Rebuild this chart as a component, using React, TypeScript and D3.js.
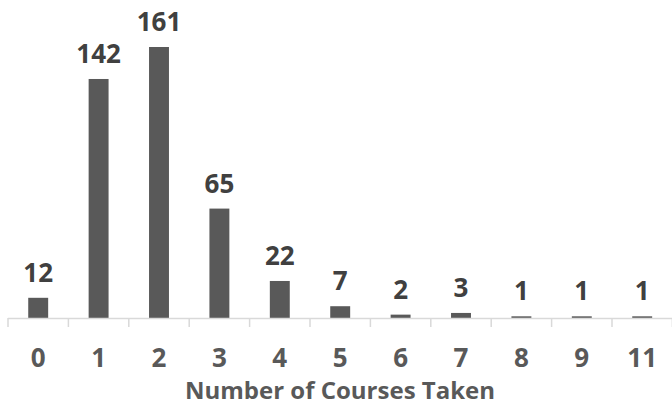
import * as d3 from 'd3'

const courses = ['0', '1', '2', '3', '4', '5', '6', '7', '8', '9', '11']
const students = [12, 142, 161, 65, 22, 7, 2, 3, 1, 1, 1]
const xTitle = 'Number of Courses Taken'

const W = 672
const H = 406
const FONT = '"Open Sans", sans-serif'

export default function App() {
  const baseY = 318
  const x = d3.scaleBand<string>()
    .domain(courses)
    .range([8, 672.4])
    .paddingInner(0.67)
    .paddingOuter(0.335)
    .align(0.5)

  const y = d3.scaleLinear()
    .domain([0, 161])
    .range([baseY, 47])

  const step = x.step()
  const tickXs = courses.map((_, i) => 8 + i * step)
  tickXs.push(8 + courses.length * step)

  return (
    <svg width={W} height={H} style={{ position: 'absolute', left: 0, top: 0, background: '#fff' }}>
      <g>
        {courses.map((c, i) => {
          const v = students[i]
          const bx = x(c) as number
          const h = Math.max(baseY - y(v), 1.5)
          return (
            <g key={c}>
              <rect x={bx} y={baseY - h} width={x.bandwidth()} height={h} fill="#595959" />
              <text
                x={bx + x.bandwidth() / 2}
                y={y(v) - 16}
                textAnchor="middle"
                fontFamily={FONT}
                fontWeight={700}
                fontSize={26}
                fill="#404040"
              >
                {v}
              </text>
            </g>
          )
        })}
      </g>

      <line x1={8} x2={672} y1={baseY + 0.5} y2={baseY + 0.5} stroke="#d9d9d9" strokeWidth={1.5} />
      {tickXs.map((tx, i) => (
        <line key={i} x1={tx} x2={tx} y1={baseY} y2={baseY + 9} stroke="#d9d9d9" strokeWidth={1.5} />
      ))}

      {courses.map(c => (
        <text
          key={c}
          x={(x(c) as number) + x.bandwidth() / 2}
          y={367}
          textAnchor="middle"
          fontFamily={FONT}
          fontWeight={700}
          fontSize={26}
          fill="#595959"
        >
          {c}
        </text>
      ))}

      <text
        x={340}
        y={399}
        textAnchor="middle"
        fontFamily={FONT}
        fontWeight={700}
        fontSize={24}
        fill="#595959"
      >
        {xTitle}
      </text>
    </svg>
  )
}
